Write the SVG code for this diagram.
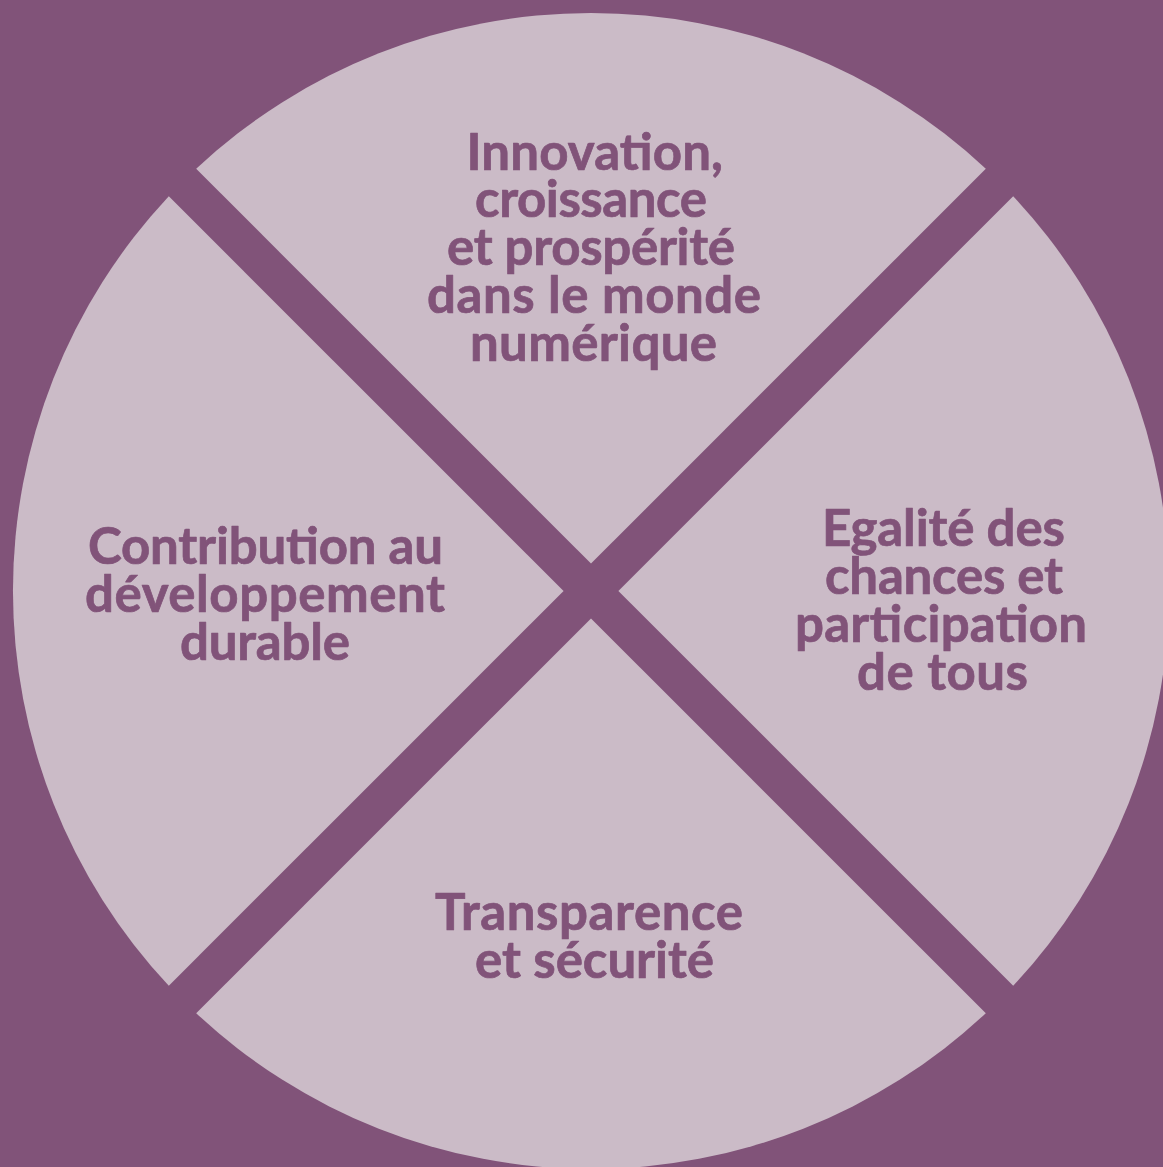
<svg xmlns="http://www.w3.org/2000/svg" width="1163" height="1167" viewBox="0 0 1163 1167">
  <style>
    .bg { fill: #815379; }
    .wedge { fill: #CBBBC7; }
    .lbl { font-family: Lato, "Open Sans", "Liberation Sans", sans-serif; font-weight: 700; font-size: 51px; fill: #815379; stroke: #815379; stroke-width: 0.7px; stroke-linejoin: round; }
  </style>
  <rect class="bg" x="0" y="0" width="1163" height="1167"/>
  <g id="node-innovation">
    <path class="wedge" d="M 591 563.6 L 196.2 168.8 A 578 578 0 0 1 985.8 168.8 Z"/>
    <text class="lbl" lengthAdjust="spacingAndGlyphs">
      <tspan x="466.5" y="169.5" textLength="256.5">Innovation,</tspan>
      <tspan x="475" y="217" textLength="232">croissance</tspan>
      <tspan x="447" y="265" textLength="288">et prospérité</tspan>
      <tspan x="427" y="313" textLength="334">dans le monde</tspan>
      <tspan x="470" y="361" textLength="247">numérique</tspan>
    </text>
  </g>
  <g id="node-egalite">
    <path class="wedge" d="M 618.4 591 L 1013.2 196.2 A 578 578 0 0 1 1013.2 985.8 Z"/>
    <text class="lbl" lengthAdjust="spacingAndGlyphs">
      <tspan x="822" y="546" textLength="243">Egalité des</tspan>
      <tspan x="825" y="594" textLength="238">chances et</tspan>
      <tspan x="795" y="642" textLength="292">participation</tspan>
      <tspan x="857" y="690" textLength="171">de tous</tspan>
    </text>
  </g>
  <g id="node-transparence">
    <path class="wedge" d="M 591 618.4 L 985.8 1013.2 A 578 578 0 0 1 196.2 1013.2 Z"/>
    <text class="lbl" lengthAdjust="spacingAndGlyphs">
      <tspan x="435" y="930" textLength="308">Transparence</tspan>
      <tspan x="475" y="977.5" textLength="239">et sécurité</tspan>
    </text>
  </g>
  <g id="node-contribution">
    <path class="wedge" d="M 563.6 591 L 168.8 985.8 A 578 578 0 0 1 168.8 196.2 Z"/>
    <text class="lbl" lengthAdjust="spacingAndGlyphs">
      <tspan x="88" y="563.5" textLength="355">Contribution au</tspan>
      <tspan x="85" y="611.5" textLength="360">développement</tspan>
      <tspan x="180" y="660" textLength="170">durable</tspan>
    </text>
  </g>
</svg>
